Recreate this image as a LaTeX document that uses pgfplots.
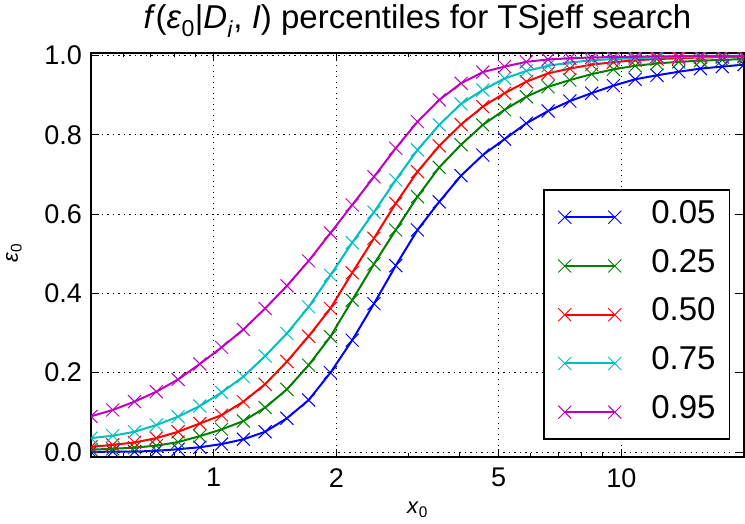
\documentclass[border=0pt]{standalone}
\usepackage{fontspec}
\setmainfont{Liberation Sans}
\usepackage{pgfplots}
\pgfplotsset{compat=1.18}
\usepackage{pgfplotstable}
\definecolor{mplblue}{rgb}{0,0,1}
\definecolor{mplgreen}{rgb}{0,0.5,0}
\definecolor{mplred}{rgb}{1,0,0}
\definecolor{mplcyan}{rgb}{0,0.75,0.75}
\definecolor{mplmagenta}{rgb}{0.75,0,0.75}

\pgfplotstableread{
x       p05    p25    p50    p75    p95
0.5000  0.000  0.006  0.013  0.035  0.090
0.5654  0.001  0.008  0.018  0.041  0.106
0.6394  0.001  0.011  0.024  0.051  0.127
0.7231  0.003  0.016  0.035  0.068  0.152
0.8177  0.007  0.025  0.051  0.089  0.183
0.9247  0.012  0.040  0.072  0.116  0.222
1.0457  0.020  0.057  0.093  0.150  0.264
1.1825  0.032  0.078  0.127  0.190  0.309
1.3372  0.051  0.112  0.171  0.242  0.362
1.5122  0.085  0.158  0.228  0.299  0.419
1.7100  0.131  0.219  0.292  0.366  0.482
1.9338  0.200  0.291  0.362  0.446  0.552
2.1868  0.282  0.383  0.452  0.528  0.623
2.4729  0.374  0.474  0.539  0.605  0.694
2.7965  0.470  0.560  0.627  0.686  0.766
3.1623  0.560  0.644  0.707  0.762  0.833
3.5760  0.631  0.718  0.772  0.825  0.888
4.0440  0.697  0.775  0.826  0.878  0.930
4.5731  0.749  0.825  0.871  0.913  0.958
5.1715  0.789  0.863  0.905  0.942  0.972
5.8480  0.829  0.896  0.934  0.961  0.984
6.6132  0.860  0.921  0.955  0.974  0.990
7.4786  0.885  0.938  0.967  0.982  0.993
8.4572  0.905  0.953  0.977  0.988  0.995
9.5638  0.924  0.965  0.983  0.991  0.996
10.8152 0.940  0.974  0.988  0.993  0.997
12.2303 0.950  0.980  0.991  0.995  0.998
13.8306 0.959  0.984  0.993  0.996  0.998
15.6403 0.967  0.987  0.995  0.997  0.999
17.6868 0.972  0.989  0.996  0.998  0.999
20.0000 0.977  0.991  0.997  0.998  0.999
}\datatable

\begin{document}
\begin{tikzpicture}
\begin{axis}[
  at={(0,0)}, anchor=south west,
  scale only axis, width=653pt, height=404pt,
  xmode=log, xmin=0.5, xmax=20, ymin=-0.0126, ymax=1.0063,
  xtick={1,2,5,10}, xticklabels={1,2,5,10},
  minor xtick={0.6,0.7,0.8,0.9,3,4,6,7,8,9,20},
  ytick={0,0.2,0.4,0.6,0.8,1.0},
  yticklabels={0.0,0.2,0.4,0.6,0.8,1.0},
  /pgf/number format/assume math mode=true,
  tick align=inside, major tick length=8pt, minor tick length=4pt,
  tick style={black, line width=1pt},
  axis line style={line width=1.6pt},
  grid=major,
  major grid style={black, line width=0.9pt, dash pattern=on 1.2pt off 4.3pt},
  every tick label/.append style={font=\fontsize{27}{27}\selectfont, inner sep=0pt},
  yticklabel shift=9pt, xticklabel shift=11pt,
  title={\textit{f}(\textit{ε}\textsubscript{0}|\textit{D}\textsubscript{\textit{i}}, \textit{I}) percentiles for TSjeff search},
  title style={at={(axis description cs:0.5,1)}, anchor=base, yshift=18pt, inner sep=0pt, font=\fontsize{33}{33}\selectfont},
  xlabel={\textit{x}\textsubscript{0}},
  xlabel style={at={(axis description cs:0.5,0)}, anchor=north, yshift=-45pt, inner sep=0pt, font=\fontsize{22}{22}\selectfont},
  ylabel={\textit{ε}\textsubscript{0}},
  ylabel style={at={(axis description cs:-0.118,0.505)}, anchor=center, inner sep=0pt, font=\fontsize{22}{22}\selectfont},
  clip marker paths=true,
  every axis plot/.append style={line width=2pt, mark=x, mark size=9.2pt, mark options={line width=1pt, solid}},
  legend image code/.code={\draw[#1] plot coordinates {(0pt,0pt) (50pt,0pt)};},
  legend style={at={(0.979,0.042)}, anchor=south east, draw=black, line width=1.6pt,
    font=\fontsize{33}{33}\selectfont, inner xsep=14pt, inner ysep=10pt, row sep=14.7pt,
    nodes={inner sep=0pt, text depth=11pt},
    /tikz/every odd column/.append style={column sep=30pt}},
  legend cell align=left,
]
\addplot[mplblue, line width=2pt] table[x=x, y=p05] {\datatable};
\addlegendentry{0.05}
\addplot[mplgreen, line width=2pt] table[x=x, y=p25] {\datatable};
\addlegendentry{0.25}
\addplot[mplred, line width=2pt] table[x=x, y=p50] {\datatable};
\addlegendentry{0.50}
\addplot[mplcyan, line width=2pt] table[x=x, y=p75] {\datatable};
\addlegendentry{0.75}
\addplot[mplmagenta, line width=2pt] table[x=x, y=p95] {\datatable};
\addlegendentry{0.95}
\end{axis}
\pgfresetboundingbox
\path[use as bounding box] (-91pt,-67pt) rectangle (654pt,457pt);
\end{tikzpicture}
\end{document}
